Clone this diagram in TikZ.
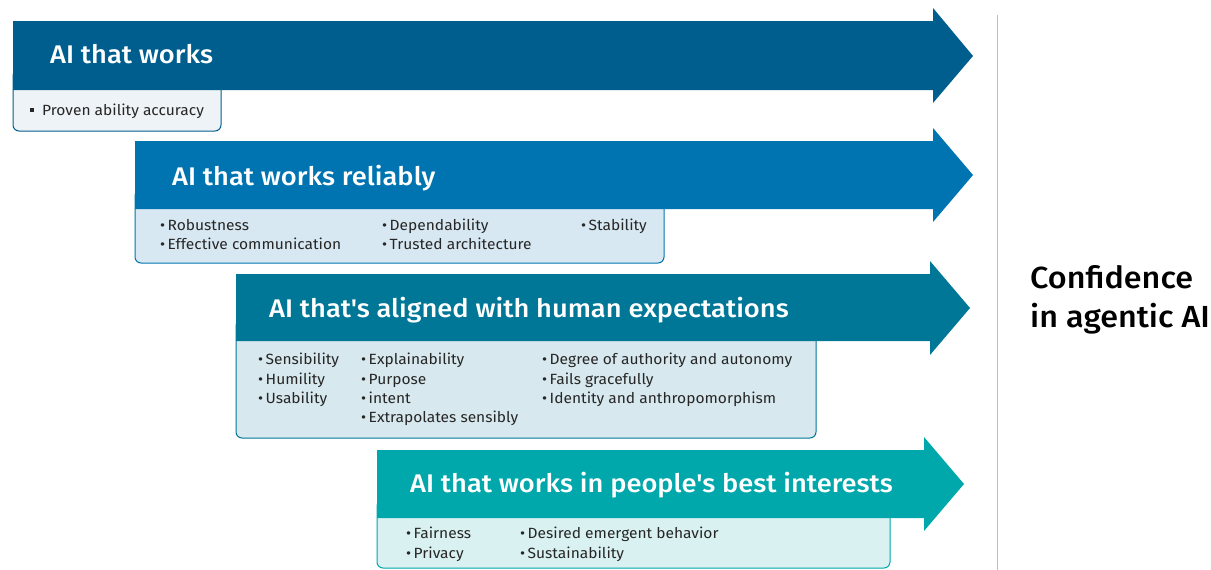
\documentclass[tikz,border=0pt]{standalone}
\usepackage{fontspec}
\setmainfont{Fira Sans}
\newfontfamily\medfont{Fira Sans Medium}
\definecolor{cA}{HTML}{005E8F}
\definecolor{cB}{HTML}{0074B0}
\definecolor{cC}{HTML}{007796}
\definecolor{cD}{HTML}{00A8AC}
\definecolor{bA}{HTML}{EEF3F8}
\definecolor{bB}{HTML}{D8E8F2}
\definecolor{bC}{HTML}{D7E8EE}
\definecolor{bD}{HTML}{D9F1F1}
\definecolor{txt}{HTML}{262626}
\tikzset{
  ttl/.style={anchor=base west, text=white, inner sep=0pt, font=\medfont\addfontfeature{FakeStretch=1.07}\fontsize{25.5}{30}\selectfont},
  itm/.style={anchor=base west, text=txt, inner sep=0pt, font=\addfontfeature{FakeStretch=1.05}\fontsize{14.8}{18}\selectfont},
  itembox/.style={line width=1pt, rounded corners=6pt},
  conf/.style={anchor=base west, text=black, inner sep=0pt, font=\medfont\addfontfeature{FakeStretch=1.06}\fontsize{30.5}{36}\selectfont},
}
\begin{document}
\begin{tikzpicture}[x=1pt,y=-1pt]
\useasboundingbox (0,0) rectangle (1211,570);
% divider
\draw[color={rgb,255:red,190;green,190;blue,190}, line width=1pt] (997,15) -- (997,570);
% boxes
\filldraw[itembox, fill=bA, draw=cA] (13,70) rectangle (221,131);
\filldraw[itembox, fill=bB, draw=cB] (135,190) rectangle (664,263);
\filldraw[itembox, fill=bC, draw=cC] (236,320) rectangle (816,438);
\filldraw[itembox, fill=bD, draw=cD] (377,500) rectangle (890,568);
% arrows
\fill[cA] (13,21) -- (933,21) -- (933,8) -- (973,56) -- (933,103) -- (933,90) -- (13,90) -- cycle;
\fill[cB] (135,141) -- (933,141) -- (933,128) -- (973,175) -- (933,222) -- (933,209) -- (135,209) -- cycle;
\fill[cC] (236,274) -- (930,274) -- (930,261) -- (970,308) -- (930,355) -- (930,341) -- (236,341) -- cycle;
\fill[cD] (377,450) -- (924,450) -- (924,437) -- (964,484) -- (924,531) -- (924,518) -- (377,518) -- cycle;
% titles
\node[ttl] (t1) at (50,63) {AI that works};
\node[ttl] (t2) at (172,185) {AI that works reliably};
\node[ttl] (t3) at (269,317) {AI that's aligned with human expectations};
\node[ttl] (t4) at (410,492) {AI that works in people's best interests};
% items
\node[itm] (a1) at (30,115) {\rule[0.22em]{0.26em}{0.26em}\hspace{0.55em}Proven ability accuracy};
\node[itm] (b1) at (160,230) {•\,Robustness};
\node[itm] (b2) at (160,249) {•\,Effective communication};
\node[itm] (b3) at (382,230) {•\,Dependability};
\node[itm] (b4) at (382,249) {•\,Trusted architecture};
\node[itm] (b5) at (581,230) {•\,Stability};
\node[itm] (c1) at (258,364) {•\,Sensibility};
\node[itm] (c2) at (258,384) {•\,Humility};
\node[itm] (c3) at (258,403) {•\,Usability};
\node[itm] (c4) at (361,364) {•\,Explainability};
\node[itm] (c5) at (361,384) {•\,Purpose};
\node[itm] (c6) at (361,403) {•\,intent};
\node[itm] (c7) at (361,422) {•\,Extrapolates sensibly};
\node[itm] (c8) at (542,364) {•\,Degree of authority and autonomy};
\node[itm] (c9) at (542,384) {•\,Fails gracefully};
\node[itm] (c10) at (542,403) {•\,Identity and anthropomorphism};
\node[itm] (d1) at (406,538) {•\,Fairness};
\node[itm] (d2) at (406,558) {•\,Privacy};
\node[itm] (d3) at (520,538) {•\,Desired emergent behavior};
\node[itm] (d4) at (520,558) {•\,Sustainability};
% right label
\node[conf] (k1) at (1030,288) {Confidence};
\node[conf] (k2) at (1030,327) {in agentic AI};
\end{tikzpicture}
\end{document}
